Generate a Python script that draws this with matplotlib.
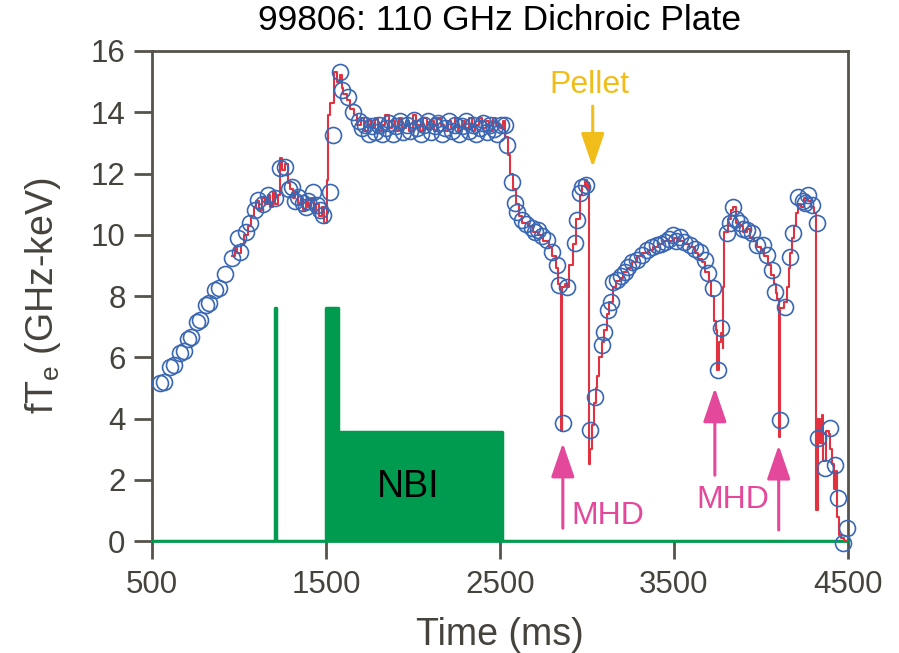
import matplotlib.pyplot as plt

plt.rcParams["font.family"] = ["Liberation Sans", "DejaVu Sans"]

# ECE samples (circles)
ece_t = [546, 570, 603, 626, 661, 684, 707, 724, 759, 776, 810, 828, 862, 885, 920,
         960, 994, 1006, 1040, 1063, 1090, 1109, 1140, 1167, 1207, 1236, 1264,
         1290, 1305, 1325, 1339, 1368, 1385, 1400, 1425, 1448, 1465, 1483, 1523,
         1540, 1580, 1592, 1626, 1655, 1690, 1707,
         1725, 1745, 1765, 1785, 1805, 1825, 1845, 1865, 1885, 1905, 1925, 1945,
         1965, 1985, 2005, 2025, 2045, 2065, 2085, 2105, 2125, 2145, 2165, 2185,
         2205, 2225, 2245, 2265, 2285, 2305, 2325, 2345, 2365, 2385, 2405, 2425,
         2445, 2465, 2485, 2505,
         2529, 2540, 2569, 2586, 2598, 2626, 2650, 2684, 2700, 2718, 2740, 2770,
         2799, 2828, 2838, 2862, 2885, 2931, 2943, 2960, 2971, 2994, 3017, 3046,
         3086, 3098, 3121, 3138, 3149, 3175, 3195, 3218, 3236, 3260, 3287, 3315,
         3345, 3375, 3402, 3425, 3448, 3470, 3494, 3515, 3534, 3560, 3592, 3620,
         3649, 3678, 3695, 3724, 3753, 3770, 3805, 3822, 3839, 3860, 3879, 3900,
         3920, 3948, 3977, 4011, 4034, 4063, 4080, 4109, 4138, 4167, 4184, 4213,
         4240, 4253, 4270, 4293, 4322, 4328, 4368, 4397, 4425, 4443, 4471, 4494]
ece_v = [5.16, 5.19, 5.68, 5.75, 6.14, 6.2, 6.6, 6.66, 7.15, 7.22, 7.71, 7.77, 8.2, 8.26, 8.72,
         9.24, 9.89, 9.44, 10.1, 10.38, 10.8, 11.13, 11.0, 11.3, 11.2, 12.18, 12.2,
         11.5, 11.56, 11.1, 11.23, 11.04, 10.9, 11.1, 11.4, 10.97, 10.8, 10.64, 11.4,
         13.26, 15.31, 14.73, 14.5, 14.0, 13.7, 13.5,
         13.6, 13.3, 13.55, 13.35, 13.6, 13.3, 13.5, 13.65, 13.3, 13.55, 13.7, 13.35,
         13.6, 13.4, 13.75, 13.5, 13.3, 13.6, 13.7, 13.35, 13.55, 13.65, 13.3, 13.5,
         13.7, 13.4, 13.6, 13.3, 13.55, 13.7, 13.4, 13.6, 13.3, 13.5, 13.65, 13.35,
         13.6, 13.45, 13.3, 13.6,
         13.58, 12.93, 11.72, 11.04, 10.74, 10.48, 10.35, 10.22, 10.1, 10.16, 9.95, 9.83,
         9.44, 9.0, 8.36, 3.85, 8.29, 9.73, 10.48, 11.36, 11.56, 11.62, 3.62, 4.70,
         6.4, 6.82, 7.54, 7.8, 8.46, 8.52, 8.65, 8.78, 8.95, 9.1, 9.17, 9.35,
         9.5, 9.6, 9.67, 9.7, 9.76, 9.85, 9.99, 9.8, 9.93, 9.75, 9.67, 9.55,
         9.44, 9.17, 8.75, 8.26, 5.6, 6.95, 10.05, 10.38, 10.9, 10.5, 10.38, 10.2,
         10.16, 10.05, 9.67, 9.67, 9.34, 8.85, 8.13, 3.95, 7.64, 9.27, 10.05, 11.23,
         11.1, 11.04, 11.3, 10.97, 10.38, 3.36, 2.38, 3.69, 2.48, 1.40, -0.07, 0.42]

# fast fTe trace (red)
trace_t = [960, 975, 990, 1010, 1030, 1050, 1070, 1085, 1100, 1115, 1130, 1150, 1165, 1180,
           1195, 1210, 1225, 1235, 1250, 1265, 1280, 1295, 1310, 1325, 1340, 1355, 1370,
           1385, 1400, 1415, 1430, 1445, 1460, 1475, 1490, 1505, 1515, 1525, 1545, 1565,
           1580, 1590, 1600, 1620, 1640, 1660, 1680, 1700,
           1720, 1740, 1760, 1780, 1800, 1820, 1840, 1860, 1880, 1900, 1920, 1940, 1960,
           1980, 2000, 2020, 2040, 2060, 2080, 2100, 2120, 2140, 2160, 2180, 2200, 2220,
           2240, 2260, 2280, 2300, 2320, 2340, 2360, 2380, 2400, 2420, 2440, 2460, 2480,
           2500, 2520,
           2530, 2545, 2560, 2575, 2590, 2610, 2630, 2660, 2690, 2720, 2750, 2780, 2800,
           2820, 2835, 2845, 2852, 2860, 2875, 2885, 2900, 2920, 2940, 2960, 2975, 2990,
           3000, 3010, 3015, 3020, 3030, 3040, 3050, 3060, 3070, 3085, 3100, 3115, 3130,
           3150, 3170, 3190, 3210, 3230, 3260, 3290, 3320, 3350, 3380, 3410, 3440, 3470,
           3500, 3530, 3560, 3590, 3620, 3640, 3660, 3680, 3700, 3715, 3730, 3740, 3750,
           3760, 3770, 3780, 3785, 3790, 3810, 3830, 3840, 3860, 3880, 3900, 3920, 3940,
           3960, 3980, 4000, 4020, 4040, 4060, 4075, 4085, 4095, 4105, 4110, 4120, 4135,
           4150, 4160, 4170, 4180, 4190, 4200, 4215, 4230, 4250, 4270, 4290, 4305, 4320,
           4330, 4340, 4350, 4360, 4375, 4390, 4400, 4410, 4420, 4430, 4440, 4450, 4460,
           4480, 4500]
trace_v = [9.3, 9.6, 9.4, 9.7, 10.0, 10.3, 10.6, 10.9, 11.1, 10.8, 11.2, 11.0, 11.3, 10.9,
           11.4, 11.0, 11.3, 12.5, 12.1, 12.3, 11.7, 11.5, 11.2, 11.4, 11.0, 11.2, 10.8,
           11.1, 10.9, 11.2, 10.7, 11.0, 10.6, 10.9, 10.4, 11.8, 13.9, 14.3, 15.3, 15.0,
           15.2, 14.8, 14.6, 14.4, 14.1, 13.9, 13.6, 13.8,
           13.4, 13.7, 13.5, 13.8, 13.4, 13.6, 13.9, 13.5, 13.7, 13.4, 13.8, 13.5, 13.7,
           13.4, 13.9, 13.6, 13.4, 13.8, 13.5, 13.7, 13.4, 13.8, 13.6, 13.4, 13.7, 13.5,
           13.8, 13.4, 13.7, 13.5, 13.8, 13.4, 13.6, 13.8, 13.5, 13.7, 13.4, 13.8, 13.6,
           13.5, 13.7,
           13.2, 12.6, 12.0, 11.5, 11.0, 10.6, 10.4, 10.3, 10.1, 10.0, 9.8, 9.6, 9.3,
           8.9, 8.4, 8.3, 3.6, 8.3, 8.4, 8.3, 9.0, 9.7, 10.5, 11.3, 11.6, 11.8,
           11.5, 11.7, 2.5, 3.0, 3.8, 4.5, 5.0, 5.4, 6.0, 6.5, 6.9, 7.4, 7.8,
           8.3, 8.5, 8.6, 8.8, 8.9, 9.1, 9.3, 9.4, 9.5, 9.6, 9.7, 9.8, 9.8,
           9.9, 9.8, 9.7, 9.6, 9.4, 9.2, 9.1, 8.8, 8.5, 8.0, 7.2, 6.9, 5.6,
           6.5, 6.8, 6.3, 8.3, 10.1, 10.5, 10.8, 10.9, 10.4, 10.3, 10.1, 10.2, 9.9,
           9.8, 9.6, 9.5, 9.3, 9.0, 8.7, 8.4, 8.1, 7.9, 3.4, 7.6, 7.6, 7.8,
           8.3, 8.9, 9.4, 9.9, 10.3, 10.7, 11.0, 10.9, 11.2, 11.1, 10.9, 10.7, 1.0,
           4.0, 3.2, 4.1, 2.6, 3.6, 3.5, 3.0, 2.5, 1.7, 2.3, 0.8, 0.2, 0.1,
           0.0, 0.0]

# NBI power waveform (green)
nbi_t = [500, 1205, 1205, 1215, 1215, 1500, 1500, 1570, 1570, 2515, 2515, 4500]
nbi_v = [0, 0, 7.6, 7.6, 0, 0, 7.6, 7.6, 3.55, 3.55, 0, 0]

GREEN = "#009b4e"
RED = "#e2313f"
BLUE = "#3a67b4"
PINK = "#e4489a"
GOLD = "#f0bd1b"
GRAY = "#56534c"
TEXT = "#46433d"

fig = plt.figure(figsize=(8.99, 6.53), dpi=100)
ax = fig.add_axes([0.169, 0.1715, 0.774, 0.7504])

ax.fill_between(nbi_t, nbi_v, 0, color=GREEN, lw=0)
ax.plot(nbi_t, nbi_v, color=GREEN, lw=2.5)
ax.text(1971, 1.76, "NBI", fontsize=27, ha="center", va="center", color="black")

ax.plot(trace_t, trace_v, color=RED, lw=1.5, drawstyle="steps-post", zorder=3)
ax.plot(ece_t, ece_v, "o", ms=11.5, mfc="none", mec=BLUE, mew=1.2, zorder=4,
        clip_on=False)

arrow_style = "-|>,head_length=1.4,head_width=0.48"

ax.text(3017, 14.9, "Pellet", color=GOLD, fontsize=23, ha="center", va="center")
ax.annotate("", xy=(3034, 12.2), xytext=(3034, 14.2),
            arrowprops=dict(arrowstyle=arrow_style, mutation_scale=15, color=GOLD,
                            lw=2.2, shrinkA=0, shrinkB=0))

mhd_arrows = [(2862, 0.42, 3.2), (3736, 2.15, 5.0), (4103, 0.36, 3.13)]
for x, y0, y1 in mhd_arrows:
    ax.annotate("", xy=(x, y1), xytext=(x, y0),
                arrowprops=dict(arrowstyle=arrow_style, mutation_scale=15, color=PINK,
                                lw=2.2, shrinkA=0, shrinkB=0))
ax.text(2914, 0.82, "MHD", color=PINK, fontsize=23, ha="left", va="center")
ax.text(3839, 1.34, "MHD", color=PINK, fontsize=23, ha="center", va="center")

ax.set_xlim(500, 4500)
ax.set_ylim(0, 16)
ax.set_xticks([500, 1500, 2500, 3500, 4500])
ax.set_yticks(range(0, 17, 2))
ax.tick_params(labelsize=22.5, colors=GRAY, labelcolor=TEXT, width=2, length=13)
ax.tick_params(axis="x", pad=8)
ax.tick_params(axis="y", pad=6)

for side in ["left", "top", "right"]:
    ax.spines[side].set_color(GRAY)
    ax.spines[side].set_linewidth(2)
ax.spines["bottom"].set_color(GREEN)
ax.spines["bottom"].set_linewidth(2)

ax.set_title("99806: 110 GHz Dichroic Plate", fontsize=25.5, pad=15)
ax.set_xlabel("Time (ms)", fontsize=27, color=TEXT, labelpad=12)
ax.set_ylabel("fT$_\\mathregular{e}$ (GHz-keV)", fontsize=27, color=TEXT, labelpad=20)

fig.savefig("out.png", dpi=100)
